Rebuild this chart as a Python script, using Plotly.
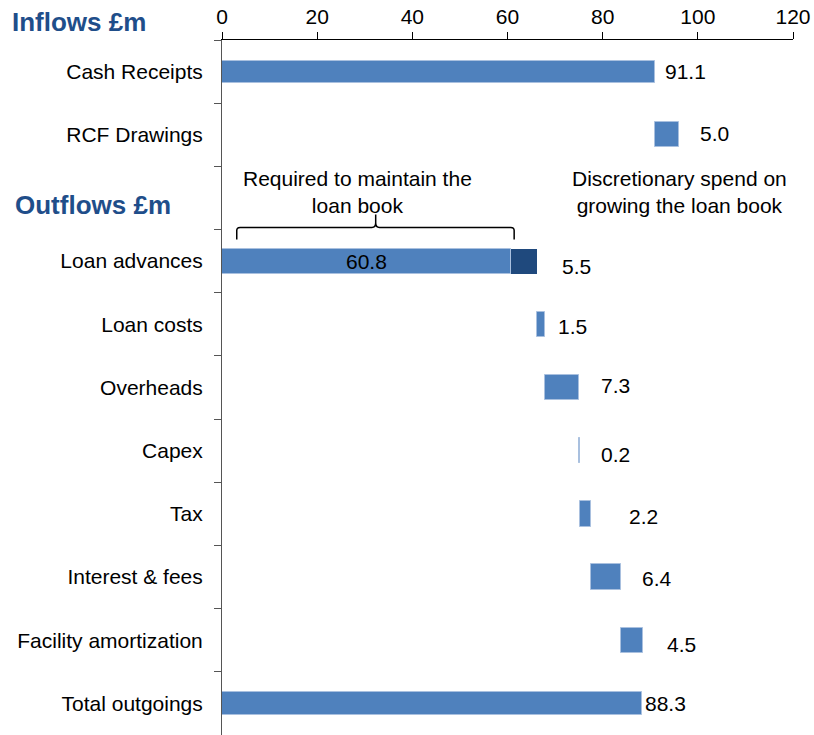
import numpy as np
import plotly.graph_objects as go

# ---------------- data ----------------
categories = ["Cash Receipts", "RCF Drawings", " ", "Loan advances", "Loan costs",
              "Overheads", "Capex", "Tax", "Interest & fees",
              "Facility amortization", "Total outgoings"]

inflow_names = ["Cash Receipts", "RCF Drawings"]
inflow_values = [91.1, 5.0]

outflow_names = ["Loan advances", "Loan advances", "Loan costs", "Overheads", "Capex",
                 "Tax", "Interest & fees", "Facility amortization"]
outflow_values = [60.8, 5.5, 1.5, 7.3, 0.2, 2.2, 6.4, 4.5]
outflow_kind = ["maintain", "discretionary", "other", "other", "other", "other", "other", "other"]

total_name = "Total outgoings"
total_value = 88.3

x_ticks = [0, 20, 40, 60, 80, 100, 120]

# ---------------- derived positions ----------------
inflow_bases = [0.0] + list(np.cumsum(inflow_values)[:-1])
outflow_bases = [0.0] + list(np.cumsum(outflow_values)[:-1])

FONT = "Liberation Sans, Arial, sans-serif"
BLUE = "#4F81BD"
DARK = "#1F497D"
EDGE = "#A9C0DF"
HEAD = "#1F4E8A"

W, H = 814, 735
ML, MR, MT, MB = 222, 21, 40, 0
PW, PH = W - ML - MR, H - MT - MB

light_y, light_x, light_base, light_w = [], [], [], []
for n, v, b in zip(inflow_names, inflow_values, inflow_bases):
    light_y.append(n); light_x.append(v); light_base.append(b)
    light_w.append(0.35 if b == 0 else 0.40)
for n, v, b, k in zip(outflow_names, outflow_values, outflow_bases, outflow_kind):
    if k == "discretionary":
        continue
    light_y.append(n); light_x.append(v); light_base.append(b); light_w.append(0.40)
light_y.append(total_name); light_x.append(total_value); light_base.append(0.0); light_w.append(0.36)

dark_y = [n for n, k in zip(outflow_names, outflow_kind) if k == "discretionary"]
dark_x = [v for v, k in zip(outflow_values, outflow_kind) if k == "discretionary"]
dark_b = [b for b, k in zip(outflow_bases, outflow_kind) if k == "discretionary"]

fig = go.Figure()
fig.add_trace(go.Bar(y=light_y, x=light_x, base=light_base, orientation="h",
                     width=light_w, marker=dict(color=BLUE, line=dict(color=EDGE, width=1)),
                     hoverinfo="skip", showlegend=False))
fig.add_trace(go.Bar(y=dark_y, x=dark_x, base=dark_b, orientation="h",
                     width=[0.40] * len(dark_y), marker=dict(color=DARK, line=dict(color=DARK, width=0)),
                     hoverinfo="skip", showlegend=False))

# ---------------- value labels ----------------
annotations = []
label_items = []
for n, v, b in zip(inflow_names, inflow_values, inflow_bases):
    label_items.append((n, v, b))
for n, v, b, k in zip(outflow_names, outflow_values, outflow_bases, outflow_kind):
    label_items.append((n, v, b, k))
label_offsets = {
    "Cash Receipts": (8, 0), "RCF Drawings": (19, 1), "discretionary": (23, -5),
    "Loan costs": (11, -2), "Overheads": (20, 2), "Capex": (19, -4), "Tax": (36, -3),
    "Interest & fees": (19, -1), "Facility amortization": (22, -4),
}
for item in label_items:
    if len(item) == 3:
        n, v, b = item; k = "in"
    else:
        n, v, b, k = item
    txt = f"{v:.1f}"
    if k == "maintain":
        annotations.append(dict(x=b + v / 2, y=n, text=txt, showarrow=False,
                                xanchor="center", yanchor="middle",
                                font=dict(size=21, color="black", family=FONT)))
        continue
    key = "discretionary" if k == "discretionary" else n
    dx, dy = label_offsets[key]
    annotations.append(dict(x=b + v, y=n, text=txt, showarrow=False, xanchor="left",
                            yanchor="middle", xshift=dx, yshift=dy,
                            font=dict(size=21, color="black", family=FONT)))
annotations.append(dict(x=total_value, y=total_name, text=f"{total_value:.1f}", showarrow=False,
                        xanchor="left", yanchor="middle", xshift=1, yshift=0,
                        font=dict(size=21, color="black", family=FONT)))

def px_to_paper_x(px):
    return (px - ML) / PW

def py_to_paper_y(py):
    return 1 - (py - MT) / PH

# headers
annotations.append(dict(xref="paper", yref="paper", x=px_to_paper_x(10), y=py_to_paper_y(22),
                        text="<b>Inflows £m</b>", showarrow=False, xanchor="left", yanchor="middle",
                        font=dict(size=26, color=HEAD, family=FONT)))
annotations.append(dict(xref="paper", yref="paper", x=px_to_paper_x(13), y=py_to_paper_y(205),
                        text="<b>Outflows £m</b>", showarrow=False, xanchor="left", yanchor="middle",
                        font=dict(size=26, color=HEAD, family=FONT)))
# notes
annotations.append(dict(xref="x", yref="paper", x=28.4, y=py_to_paper_y(192.5),
                        text="Required to maintain the<br>loan book", showarrow=False,
                        xanchor="center", yanchor="middle",
                        font=dict(size=21, color="black", family=FONT)))
annotations.append(dict(xref="x", yref="paper", x=96.05, y=py_to_paper_y(192.5),
                        text="Discretionary spend on<br>growing the loan book", showarrow=False,
                        xanchor="center", yanchor="middle",
                        font=dict(size=21, color="black", family=FONT)))

# brace over the "maintain" part
x0, xc, x1 = 3.1, 32.3, 61.4
yt, yl, yc = 2.656, 2.466, 2.261
path = (f"M {x0},{yt} L {x0},{yl+0.05} Q {x0},{yl} {x0+0.7},{yl} "
        f"L {xc-0.8},{yl} Q {xc},{yl} {xc},{yl-0.07} L {xc},{yc} "
        f"M {xc},{yl-0.07} Q {xc},{yl} {xc+0.8},{yl} "
        f"L {x1-0.7},{yl} Q {x1},{yl} {x1},{yl+0.05} L {x1},{yt}")
shapes = [dict(type="path", xref="x", yref="y", path=path,
               line=dict(color="black", width=1.5), fillcolor="rgba(0,0,0,0)")]

fig.update_layout(
    width=W, height=H,
    margin=dict(l=ML, r=MR, t=MT, b=MB, pad=0),
    paper_bgcolor="white", plot_bgcolor="white",
    barmode="overlay", bargap=0,
    font=dict(family=FONT, size=21, color="black"),
    annotations=annotations, shapes=shapes,
    xaxis=dict(side="top", range=[0, 120], tickvals=x_ticks, ticktext=[str(t) for t in x_ticks],
               ticks="outside", ticklen=7, tickcolor="#000", tickwidth=1, automargin=False,
               showline=True, linecolor="#000", linewidth=1, showgrid=False, zeroline=False,
               tickfont=dict(size=21, family=FONT, color="black")),
    yaxis=dict(type="category", categoryorder="array", categoryarray=categories,
               range=[len(categories) - 0.5, -0.5], tickson="boundaries", automargin=False,
               ticks="outside", ticklen=7, tickcolor="#555", tickwidth=1,
               showline=True, linecolor="#555", linewidth=1, showgrid=False, zeroline=False,
               ticklabelstandoff=14,
               tickfont=dict(size=21, family=FONT, color="black")),
)

fig.write_html("out.html", config={"displayModeBar": False},
               post_script="document.body.style.margin='0px';document.body.style.overflow='hidden';")
